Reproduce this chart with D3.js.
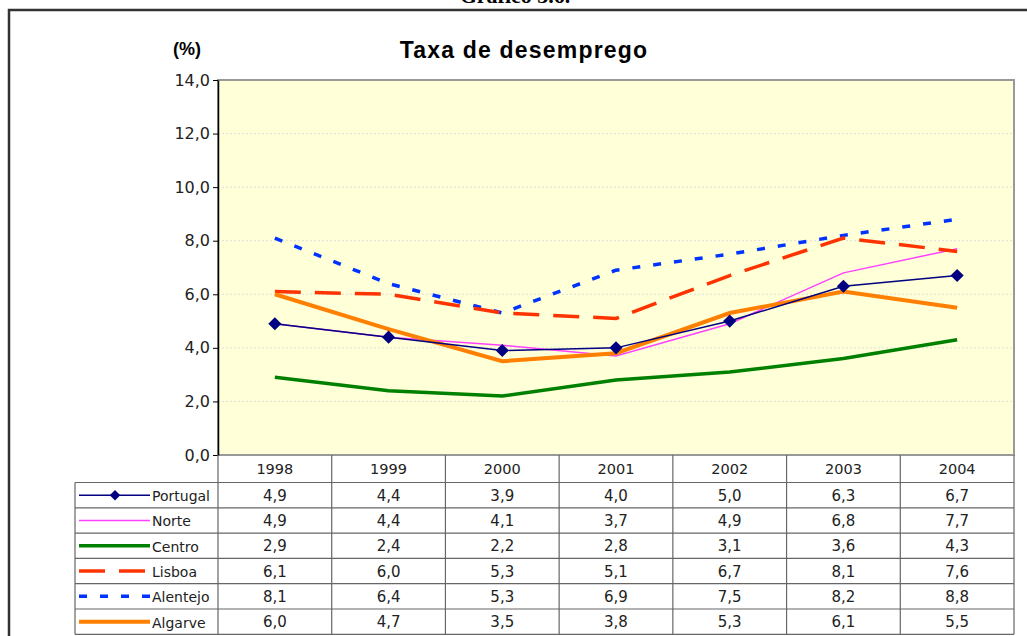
<!DOCTYPE html>
<html>
<head>
<meta charset="utf-8">
<style>
  body { margin: 0; background: #fff; }
  text { font-family: "DejaVu Sans", Verdana, sans-serif; }
  .title { font-family: "Liberation Sans", Arial, sans-serif; font-weight: bold; }
</style>
</head>
<body>
<script src="https://cdn.jsdelivr.net/npm/d3@7"></script>
<script>
// data
var years = ["1998", "1999", "2000", "2001", "2002", "2003", "2004"];
var portugal = [4.9, 4.4, 3.9, 4.0, 5.0, 6.3, 6.7];
var norte = [4.9, 4.4, 4.1, 3.7, 4.9, 6.8, 7.7];
var centro = [2.9, 2.4, 2.2, 2.8, 3.1, 3.6, 4.3];
var lisboa = [6.1, 6.0, 5.3, 5.1, 6.7, 8.1, 7.6];
var alentejo = [8.1, 6.4, 5.3, 6.9, 7.5, 8.2, 8.8];
var algarve = [6.0, 4.7, 3.5, 3.8, 5.3, 6.1, 5.5];
var yTicks = [0, 2, 4, 6, 8, 10, 12, 14];

var series = [
  { name: "Portugal", values: portugal, color: "#000080", width: 1.5, dash: null, marker: true },
  { name: "Norte", values: norte, color: "#ff40ff", width: 1.5, dash: null },
  { name: "Centro", values: centro, color: "#008000", width: 3.5, dash: null },
  { name: "Lisboa", values: lisboa, color: "#ff3300", width: 3.5, dash: "26,14" },
  { name: "Alentejo", values: alentejo, color: "#0033ff", width: 3.5, dash: "8,13" },
  { name: "Algarve", values: algarve, color: "#ff8000", width: 4, dash: null }
];

var width = 1027, height = 636;
var plotLeft = 218, plotRight = 1014, plotTop = 80, plotBottom = 455;
var rowH = 25.3, headH = 27.5, tableLeft = 75;

var fmt = function(v) { return d3.format(".1f")(v).replace(".", ","); };

var svg = d3.select("body").append("svg")
  .attr("width", width)
  .attr("height", height);

// page title (cut off at top) and frame
svg.append("text")
  .attr("x", 515).attr("y", 3)
  .attr("text-anchor", "middle")
  .style("font-family", "'Liberation Serif', 'Times New Roman', serif")
  .style("font-weight", "bold")
  .style("font-size", "22px")
  .text("Gráfico 3.6.");

svg.append("path")
  .attr("d", "M9,636V10H1027")
  .attr("fill", "none")
  .attr("stroke", "#333")
  .attr("stroke-width", 2.5);

var x = d3.scaleBand().domain(years).range([plotLeft, plotRight]);
var y = d3.scaleLinear().domain([0, 14]).range([plotBottom, plotTop]);

// plot area
svg.append("rect")
  .attr("x", plotLeft).attr("y", plotTop)
  .attr("width", plotRight - plotLeft).attr("height", plotBottom - plotTop)
  .attr("fill", "#ffffd8")
  .attr("stroke", "#999")
  .attr("stroke-width", 2);

// gridlines
svg.append("g")
  .selectAll("line")
  .data(yTicks.slice(1, -1))
  .enter().append("line")
  .attr("x1", plotLeft).attr("x2", plotRight)
  .attr("y1", function(d) { return y(d); })
  .attr("y2", function(d) { return y(d); })
  .attr("stroke", "#ddd")
  .attr("stroke-dasharray", "2,2");

// y axis
var yAxis = svg.append("g")
  .attr("transform", "translate(" + plotLeft + ",0)")
  .call(d3.axisLeft(y).tickValues(yTicks).tickFormat(fmt).tickSize(5).tickSizeOuter(0));
yAxis.select(".domain").attr("stroke", "#000").attr("stroke-width", 1.5);
yAxis.selectAll("text").style("font-size", "16px").style("font-family", "'DejaVu Sans', Verdana, sans-serif").attr("fill", "#222");

// titles
svg.append("text").attr("class", "title")
  .attr("x", 524).attr("y", 58)
  .attr("text-anchor", "middle")
  .style("font-size", "23px")
  .style("letter-spacing", "1.2px")
  .text("Taxa de desemprego");

svg.append("text").attr("class", "title")
  .attr("x", 187).attr("y", 55)
  .attr("text-anchor", "middle")
  .style("font-size", "18px")
  .text("(%)");

// lines
var line = d3.line()
  .x(function(d, i) { return x(years[i]) + x.bandwidth() / 2; })
  .y(function(d) { return y(d); });

var order = [2, 1, 4, 3, 5, 0];
order.forEach(function(k) {
  var s = series[k];
  svg.append("path")
    .datum(s.values)
    .attr("d", line)
    .attr("fill", "none")
    .attr("stroke", s.color)
    .attr("stroke-width", s.width)
    .attr("stroke-dasharray", s.dash);
  if (s.marker) {
    svg.append("g").selectAll("path")
      .data(s.values)
      .enter().append("path")
      .attr("transform", function(d, i) {
        return "translate(" + (x(years[i]) + x.bandwidth() / 2) + "," + y(d) + ")";
      })
      .attr("d", d3.symbol().type(d3.symbolDiamond2).size(110))
      .attr("fill", s.color);
  }
});

// data table
var table = svg.append("g");
var tableBottom = plotBottom + headH + rowH * series.length;

// header row
table.selectAll(".yr")
  .data(years)
  .enter().append("text")
  .attr("x", function(d) { return x(d) + x.bandwidth() / 2; })
  .attr("y", plotBottom + 19)
  .attr("text-anchor", "middle")
  .style("font-size", "14.5px")
  .attr("fill", "#222")
  .text(function(d) { return d; });

// horizontal lines
var hy = d3.range(series.length + 1).map(function(i) { return plotBottom + headH + i * rowH; });
table.selectAll(".hl")
  .data(hy)
  .enter().append("line")
  .attr("x1", tableLeft).attr("x2", plotRight)
  .attr("y1", function(d) { return d; })
  .attr("y2", function(d) { return d; })
  .attr("stroke", "#666")
  .attr("stroke-width", 1.2);

// vertical lines
var vx = years.map(function(d) { return x(d); }).concat([plotRight]);
table.selectAll(".vl")
  .data(vx)
  .enter().append("line")
  .attr("x1", function(d) { return d; })
  .attr("x2", function(d) { return d; })
  .attr("y1", plotBottom).attr("y2", tableBottom)
  .attr("stroke", "#666")
  .attr("stroke-width", 1.2);
table.append("line")
  .attr("x1", tableLeft).attr("x2", tableLeft)
  .attr("y1", plotBottom + headH).attr("y2", tableBottom)
  .attr("stroke", "#666")
  .attr("stroke-width", 1.2);

series.forEach(function(s, r) {
  var ry = plotBottom + headH + r * rowH;
  var mid = ry + rowH / 2;
  table.append("line")
    .attr("x1", 79).attr("x2", 150)
    .attr("y1", mid).attr("y2", mid)
    .attr("stroke", s.color)
    .attr("stroke-width", s.width)
    .attr("stroke-dasharray", s.dash);
  if (s.marker) {
    table.append("path")
      .attr("transform", "translate(115," + mid + ")")
      .attr("d", d3.symbol().type(d3.symbolDiamond2).size(70))
      .attr("fill", s.color);
  }
  table.append("text")
    .attr("x", 152).attr("y", mid + 6)
    .style("font-size", "14px")
    .attr("fill", "#222")
    .text(s.name);
  table.selectAll(".v" + r)
    .data(s.values)
    .enter().append("text")
    .attr("x", function(d, i) { return x(years[i]) + x.bandwidth() / 2; })
    .attr("y", mid + 5.5)
    .attr("text-anchor", "middle")
    .style("font-size", "15px")
    .attr("fill", "#222")
    .text(function(d) { return fmt(d); });
});
</script>
</body>
</html>
